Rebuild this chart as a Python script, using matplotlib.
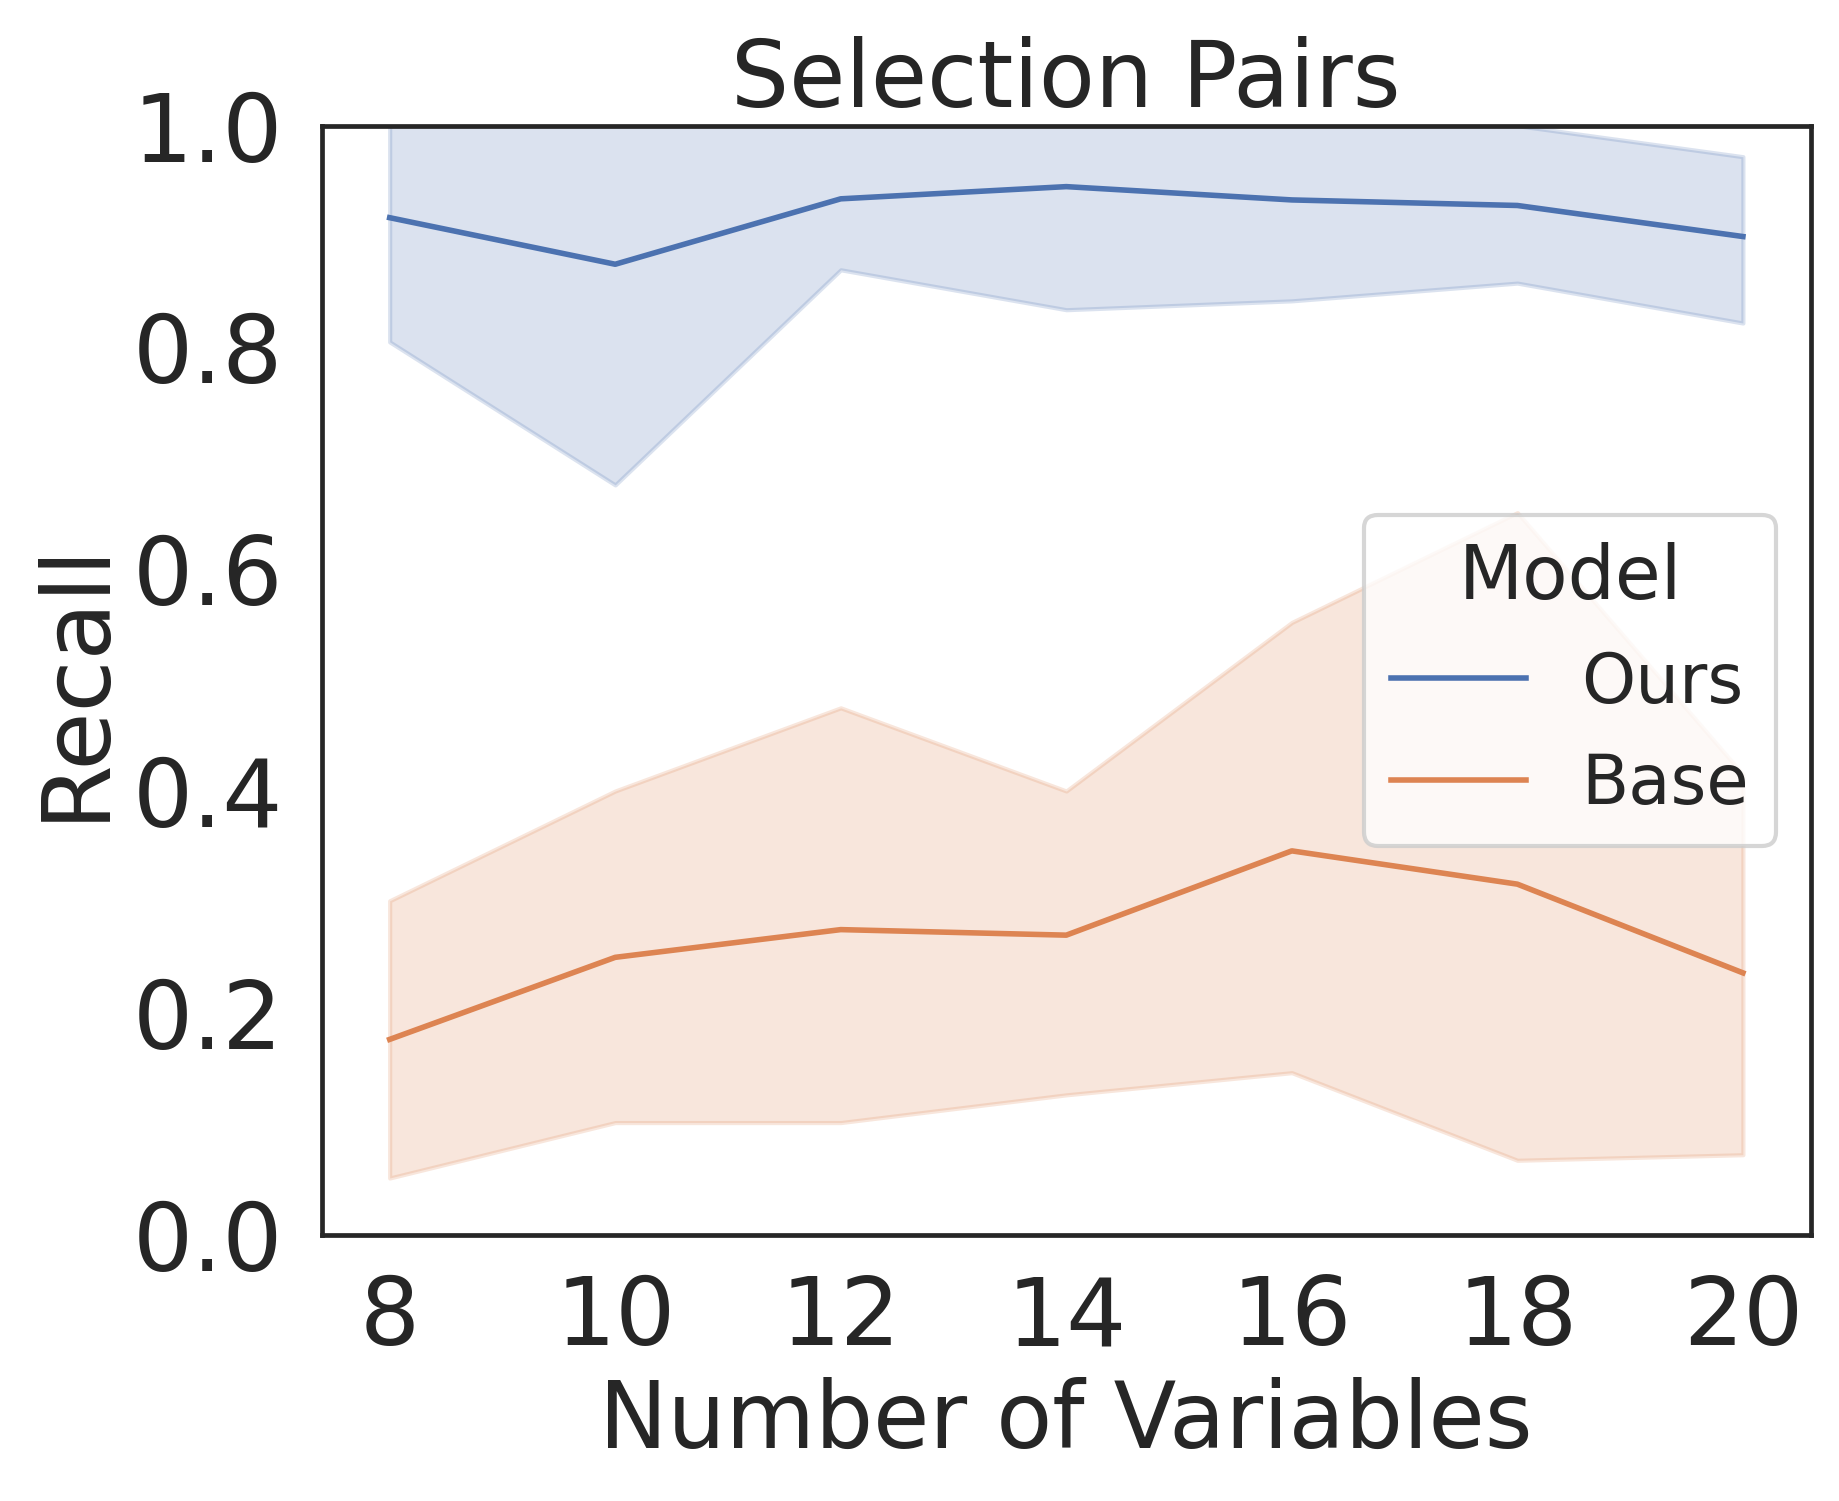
import matplotlib
matplotlib.use("Agg")
import matplotlib.pyplot as plt

# values
n_vars = [8, 10, 12, 14, 16, 18, 20]

ours_mean = [0.917, 0.875, 0.934, 0.945, 0.933, 0.928, 0.900]
ours_low  = [0.805, 0.676, 0.870, 0.834, 0.842, 0.858, 0.822]
ours_high = [1.000, 1.000, 1.000, 1.000, 1.000, 1.000, 0.972]

base_mean = [0.176, 0.250, 0.275, 0.270, 0.346, 0.316, 0.236]
base_low  = [0.051, 0.101, 0.101, 0.126, 0.146, 0.067, 0.072]
base_high = [0.301, 0.400, 0.475, 0.400, 0.552, 0.651, 0.415]

series = [
    ("Ours", ours_mean, ours_low, ours_high, "#4c72b0"),
    ("Base", base_mean, base_low, base_high, "#dd8452"),
]

TEXT = "#262626"
plt.rcParams["font.family"] = ["DejaVu Sans"]
plt.rcParams["text.color"] = TEXT
plt.rcParams["axes.labelcolor"] = TEXT
plt.rcParams["xtick.color"] = TEXT
plt.rcParams["ytick.color"] = TEXT

fig = plt.figure(figsize=(9.2, 7.505), dpi=200)
ax = fig.add_axes([0.175, 0.1775, 0.809, 0.7388])

for name, mean, low, high, col in series:
    ax.fill_between(n_vars, low, high, facecolor=col, edgecolor=col,
                    alpha=0.2, linewidth=1.5)
    ax.plot(n_vars, mean, color=col, linewidth=2.0, label=name)

ax.set_ylim(0, 1.0)
ax.set_xlim(7.4, 20.6)
ax.set_xticks(n_vars)
ax.set_yticks([0.0, 0.2, 0.4, 0.6, 0.8, 1.0])
ax.tick_params(axis="both", length=0, labelsize=34, pad=14)

for s in ax.spines.values():
    s.set_color(TEXT)
    s.set_linewidth(1.7)

ax.set_title("Selection Pairs", fontsize=33, pad=2)
ax.set_xlabel("Number of Variables", fontsize=33, labelpad=4)
ax.set_ylabel("Recall", fontsize=34, labelpad=4)

leg = ax.legend(title="Model", loc="center right", fontsize=24.8,
                title_fontsize=26.8, framealpha=0.8, edgecolor="#cccccc",
                fancybox=True, handlelength=1.95)
leg.get_frame().set_linewidth(1.5)

fig.savefig("out.png", dpi=200)
